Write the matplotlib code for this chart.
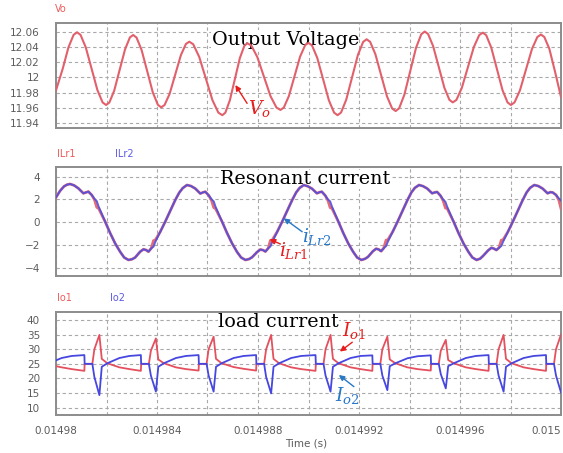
import numpy as np
import matplotlib
matplotlib.use("Agg")
import matplotlib.pyplot as plt

plt.rcParams["mathtext.fontset"] = "dejavuserif"

# ---------------------------------------------------------------- data
T0_US = 14980.0          # time origin of the window, microseconds

# Output voltage (time offsets in us, volts)
vo_t_us = [0.000, 0.265, 0.493, 0.697, 0.833,
           0.971, 1.178, 1.409, 1.639, 1.846, 1.984,
           2.113, 2.306, 2.520, 2.734, 2.927, 3.056,
           3.189, 3.389, 3.612, 3.834, 4.034, 4.167,
           4.300, 4.500, 4.723, 4.945, 5.145, 5.278,
           5.435, 5.671, 5.933, 6.194, 6.430, 6.587,
           6.706, 6.885, 7.083, 7.281, 7.460, 7.579,
           7.736, 7.972, 8.234, 8.496, 8.732, 8.889,
           9.022, 9.222, 9.445, 9.667, 9.867, 10.000,
           10.138, 10.345, 10.576, 10.806, 11.013, 11.151,
           11.289, 11.496, 11.727, 11.957, 12.164, 12.302,
           12.440, 12.647, 12.877, 13.107, 13.314, 13.452,
           13.590, 13.797, 14.028, 14.258, 14.465, 14.603,
           14.736, 14.936, 15.159, 15.381, 15.581, 15.714,
           15.857, 16.071, 16.310, 16.548, 16.762, 16.905,
           17.038, 17.238, 17.461, 17.683, 17.883, 18.016,
           18.159, 18.373, 18.611, 18.849, 19.063, 19.206,
           19.339, 19.539, 19.762, 20.000]
vo = [11.983, 12.0115, 12.0400, 12.0566, 12.0600,
      12.0566, 12.0401, 12.0118, 11.9834, 11.9669, 11.9635,
      11.9668, 11.9826, 12.0100, 12.0373, 12.0532, 12.0564,
      12.0530, 12.0366, 12.0084, 11.9802, 11.9638, 11.9604,
      11.9635, 11.9783, 12.0040, 12.0296, 12.0445, 12.0475,
      12.0441, 12.0274, 11.9988, 11.9701, 11.9534, 11.9500,
      11.9533, 11.9697, 11.9977, 12.0257, 12.0421, 12.0454,
      12.0423, 12.0272, 12.0012, 11.9752, 11.9601, 11.9570,
      11.9601, 11.9753, 12.0015, 12.0277, 12.0429, 12.0460,
      12.0426, 12.0262, 11.9980, 11.9698, 11.9534, 11.9500,
      11.9535, 11.9707, 12.0004, 12.0300, 12.0472, 12.0507,
      12.0474, 12.0311, 12.0031, 11.9751, 11.9588, 11.9555,
      11.9592, 11.9772, 12.0083, 12.0393, 12.0573, 12.0610,
      12.0577, 12.0416, 12.0140, 11.9864, 11.9703, 11.9670,
      11.9702, 11.9861, 12.0133, 12.0404, 12.0563, 12.0595,
      12.0561, 12.0397, 12.0115, 11.9833, 11.9669, 11.9635,
      11.9670, 11.9828, 12.0103, 12.0377, 12.0537, 12.0570,
      12.0538, 12.0380, 12.0080, 11.9740]

# Resonant currents (A)
ilr_t_us = [0.000, 0.159, 0.317, 0.436,
            0.556, 0.715, 0.885, 1.084, 1.191, 1.282, 1.417, 1.528, 1.616, 1.687,
            1.945, 2.143, 2.342, 2.540, 2.699, 2.870, 3.016, 3.135, 3.334, 3.465,
            3.572, 3.663, 3.770, 3.862, 3.929, 4.127, 4.326, 4.524, 4.723, 4.881, 5.020,
            5.187, 5.346, 5.516, 5.715, 5.822, 5.913, 6.048, 6.159, 6.247, 6.318,
            6.576, 6.774, 6.973, 7.171, 7.330, 7.501, 7.647, 7.766, 7.965, 8.096,
            8.203, 8.294, 8.401, 8.493, 8.560, 8.758, 8.957, 9.155, 9.354, 9.512, 9.651,
            9.813, 9.970, 10.137, 10.333, 10.439, 10.528, 10.662, 10.771, 10.858, 10.928,
            11.182, 11.377, 11.573, 11.768, 11.925, 12.093, 12.237, 12.355, 12.551, 12.680,
            12.785, 12.875, 12.980, 13.071, 13.137, 13.332, 13.528, 13.723, 13.920, 14.075, 14.212,
            14.377, 14.534, 14.701, 14.897, 15.003, 15.092, 15.226, 15.335, 15.422, 15.492,
            15.746, 15.941, 16.137, 16.332, 16.489, 16.657, 16.801, 16.919, 17.115, 17.244,
            17.349, 17.439, 17.544, 17.635, 17.701, 17.896, 18.092, 18.287, 18.484, 18.639, 18.776,
            18.941, 19.100, 19.270, 19.469, 19.576, 19.667, 19.802, 19.913, 20.000]
ilr2 = [2.18, 2.75, 3.15, 3.30,
        3.36, 3.24, 2.98, 2.54, 2.62, 2.69, 2.39, 2.05, 1.85, 1.38,
        0.05, -0.95, -1.86, -2.60, -3.10, -3.32, -3.25, -3.10, -2.59, -2.38,
        -2.45, -2.59, -2.30, -2.15, -1.75, -0.85, 0.05, 1.00, 1.95, 2.60, 3.00,
        3.27, 3.18, 2.96, 2.52, 2.62, 2.68, 2.36, 2.02, 1.83, 1.36,
        0.05, -0.95, -1.86, -2.62, -3.10, -3.32, -3.24, -3.08, -2.62, -2.40,
        -2.46, -2.58, -2.30, -2.13, -1.76, -0.85, 0.05, 1.00, 1.95, 2.62, 3.02,
        3.27, 3.16, 2.95, 2.54, 2.64, 2.68, 2.35, 2.00, 1.83, 1.38,
        0.05, -0.95, -1.86, -2.60, -3.10, -3.32, -3.22, -3.05, -2.55, -2.33,
        -2.40, -2.55, -2.28, -2.11, -1.74, -0.85, 0.05, 1.00, 1.95, 2.62, 3.02,
        3.27, 3.17, 2.96, 2.54, 2.62, 2.66, 2.34, 1.98, 1.80, 1.36,
        0.05, -0.95, -1.86, -2.60, -3.10, -3.32, -3.20, -2.95, -2.48, -2.25,
        -2.33, -2.45, -2.25, -2.10, -1.74, -0.85, 0.05, 1.00, 1.95, 2.62, 3.02,
        3.27, 3.18, 2.96, 2.54, 2.64, 2.62, 2.40, 2.10, 1.90]
ilr1 = [2.18, 2.75, 3.15, 3.30,
        3.36, 3.24, 2.98, 2.54, 2.62, 2.69, 2.39, 1.95, 1.30, 1.22,
        0.05, -0.95, -1.86, -2.60, -3.10, -3.32, -3.25, -3.10, -2.59, -2.38,
        -2.45, -2.59, -2.30, -1.62, -1.58, -0.85, 0.05, 1.00, 1.95, 2.60, 3.00,
        3.27, 3.18, 2.96, 2.52, 2.62, 2.68, 2.36, 1.92, 1.28, 1.20,
        0.05, -0.95, -1.86, -2.62, -3.10, -3.32, -3.24, -3.08, -2.62, -2.40,
        -2.46, -2.58, -2.30, -1.60, -1.58, -0.85, 0.05, 1.00, 1.95, 2.62, 3.02,
        3.27, 3.16, 2.95, 2.54, 2.64, 2.68, 2.35, 1.90, 1.28, 1.22,
        0.05, -0.95, -1.86, -2.60, -3.10, -3.32, -3.22, -3.05, -2.55, -2.33,
        -2.40, -2.55, -2.28, -1.58, -1.56, -0.85, 0.05, 1.00, 1.95, 2.62, 3.02,
        3.27, 3.17, 2.96, 2.54, 2.62, 2.66, 2.34, 1.88, 1.25, 1.20,
        0.05, -0.95, -1.86, -2.60, -3.10, -3.32, -3.20, -2.95, -2.48, -2.25,
        -2.33, -2.45, -2.25, -1.58, -1.56, -0.85, 0.05, 1.00, 1.95, 2.62, 3.02,
        3.27, 3.18, 2.96, 2.54, 2.64, 2.62, 2.40, 1.95, 1.20]

# Load currents (A)
io_t_us = [0.000, 0.226, 0.622,
           1.123, 1.135, 1.440, 1.520, 1.718, 1.813, 2.035, 2.512, 2.908,
           3.361, 3.373, 3.678, 3.758, 3.956, 4.051, 4.273, 4.750, 5.146,
           5.647, 5.659, 5.964, 6.044, 6.242, 6.337, 6.559, 7.036, 7.432,
           7.925, 7.937, 8.242, 8.322, 8.520, 8.615, 8.837, 9.314, 9.710,
           10.278, 10.290, 10.595, 10.675, 10.873, 10.968, 11.190, 11.667, 12.063,
           12.528, 12.540, 12.845, 12.925, 13.123, 13.218, 13.440, 13.917, 14.313,
           14.842, 14.854, 15.159, 15.239, 15.437, 15.532, 15.754, 16.231, 16.627,
           17.131, 17.143, 17.448, 17.528, 17.726, 17.821, 18.043, 18.520, 18.916,
           19.405, 19.417, 19.722, 19.802, 20.000]
io1 = [24.2, 23.8, 23.2,
       22.6, 25.0, 25.0, 30.0, 34.9, 26.7, 25.2, 23.8, 23.2,
       22.6, 25.0, 25.0, 29.5, 33.7, 26.5, 25.2, 23.8, 23.2,
       22.7, 25.0, 25.0, 30.0, 34.3, 26.7, 25.2, 23.9, 23.3,
       22.7, 25.0, 25.0, 30.0, 34.9, 26.7, 25.2, 23.8, 23.2,
       22.6, 25.0, 25.0, 30.0, 34.9, 26.7, 25.2, 23.8, 23.2,
       22.6, 25.0, 25.0, 30.0, 34.3, 26.5, 25.2, 23.8, 23.2,
       22.7, 25.0, 25.0, 29.5, 33.2, 26.3, 25.2, 23.8, 23.2,
       22.6, 25.0, 25.0, 30.0, 34.9, 26.7, 25.2, 23.8, 23.2,
       22.6, 25.0, 25.0, 30.0, 35.0]
io2 = [26.2, 27.0, 27.7,
       28.0, 25.0, 25.0, 20.5, 14.3, 24.0, 25.2, 27.0, 27.7,
       28.0, 25.0, 25.0, 21.0, 15.5, 24.0, 25.2, 27.0, 27.7,
       28.0, 25.0, 25.0, 21.0, 15.5, 24.0, 25.2, 27.0, 27.7,
       28.0, 25.0, 25.0, 20.5, 14.9, 24.0, 25.2, 27.0, 27.7,
       28.0, 25.0, 25.0, 21.0, 15.5, 24.0, 25.2, 27.0, 27.7,
       27.9, 25.0, 25.0, 21.0, 16.0, 24.2, 25.2, 26.9, 27.6,
       27.9, 25.0, 25.0, 21.5, 16.6, 24.2, 25.2, 27.0, 27.7,
       28.0, 25.0, 25.0, 21.0, 15.5, 24.0, 25.2, 27.0, 27.7,
       28.0, 25.0, 25.0, 21.0, 15.2]

x_grid = [0.014980, 0.014982, 0.014984, 0.014986, 0.014988, 0.014990,
          0.014992, 0.014994, 0.014996, 0.014998, 0.015000]
x_labels = ["0.01498", "", "0.014984", "", "0.014988", "",
            "0.014992", "", "0.014996", "", "0.015"]
vo_ticks = [11.94, 11.96, 11.98, 12.00, 12.02, 12.04, 12.06]
vo_tick_labels = ["11.94", "11.96", "11.98", "12", "12.02", "12.04", "12.06"]
ilr_ticks = [-4, -2, 0, 2, 4]
io_ticks = [10, 15, 20, 25, 30, 35, 40]


def to_seconds(t_us):
    return (T0_US + np.asarray(t_us)) * 1e-6


# ---------------------------------------------------------------- figure
W, H = 563, 453
fig = plt.figure(figsize=(W / 100, H / 100), dpi=100)
fig.patch.set_facecolor("white")


def add_panel(left, top, right, bottom):
    return fig.add_axes([left / W, 1 - bottom / H, (right - left) / W, (bottom - top) / H])


ax1 = add_panel(56, 22.7, 561, 128)
ax2 = add_panel(56, 166.7, 561, 276)
ax3 = add_panel(56, 311.7, 561, 415)

RED_LINE = "#e2606c"
BLUE_LINE = "#4f4fdc"
LABEL_GRAY = "#5c5c5c"

for ax in (ax1, ax2, ax3):
    ax.set_xlim(0.01498, 0.015)
    ax.set_xticks(x_grid)
    ax.set_xticklabels([])
    ax.grid(True, color="#a9a9a9", linestyle=(0, (3, 2.5)), linewidth=0.8, zorder=0)
    ax.set_axisbelow(True)
    ax.tick_params(length=0, labelsize=7.5, labelcolor=LABEL_GRAY, pad=11.5)
    for sp in ax.spines.values():
        sp.set_color("#8c8c8c")
        sp.set_linewidth(1.4)

# Output voltage
ax1.plot(to_seconds(vo_t_us), vo, color=RED_LINE, lw=1.5, zorder=3)
ax1.set_ylim(11.933, 12.0727)
ax1.set_yticks(vo_ticks)
ax1.set_yticklabels(vo_tick_labels)

# Resonant currents
ax2.plot(to_seconds(ilr_t_us), ilr1, color="#e46a78", lw=2.0, zorder=3)
ax2.plot(to_seconds(ilr_t_us), ilr2, color=BLUE_LINE, lw=1.4, alpha=0.9, zorder=4)
ax2.set_ylim(-4.73, 4.88)
ax2.set_yticks(ilr_ticks)

# Load currents
ax3.plot(to_seconds(io_t_us), io1, color="#e4505e", lw=1.3, zorder=3)
ax3.plot(to_seconds(io_t_us), io2, color="#4646e0", lw=1.3, zorder=4)
ax3.set_ylim(7.5, 42.84)
ax3.set_yticks(io_ticks)
ax3.set_xticklabels(x_labels)
ax3.tick_params(axis="x", pad=8)
ax3.get_xticklabels()[-1].set_horizontalalignment("right")
fig.text(306 / W, 1 - 443 / H, "Time (s)", ha="center", va="center",
         fontsize=7.5, color=LABEL_GRAY)

# Trace names above each panel
name_style = dict(fontsize=7, va="center", ha="left")
fig.text(55 / W, 1 - 9 / H, "Vo", color="#ee5a5a", **name_style)
fig.text(57 / W, 1 - 153.5 / H, "ILr1", color="#ee5a5a", **name_style)
fig.text(115 / W, 1 - 153.5 / H, "ILr2", color="#5a5ae6", **name_style)
fig.text(57 / W, 1 - 298 / H, "Io1", color="#ee5a5a", **name_style)
fig.text(110 / W, 1 - 298 / H, "Io2", color="#5a5ae6", **name_style)

# Panel captions: white box hides the grid, traces stay on top
title_style = dict(fontsize=13.8, family="DejaVu Serif", color="black", ha="left",
                   va="baseline", zorder=2,
                   bbox=dict(facecolor="white", edgecolor="none", pad=0.4))
ax1.text(0.308, 0.790, "Output Voltage", transform=ax1.transAxes, **title_style)
ax2.text(0.325, 0.839, "Resonant current", transform=ax2.transAxes, **title_style)
ax3.text(0.321, 0.855, "load current", transform=ax3.transAxes, **title_style)

# Trace callouts
ARROW_RED = "#e81c1c"
ARROW_BLUE = "#2878c8"


def to_seconds_pt(p):
    return ((T0_US + p[0]) * 1e-6, p[1])


def callout(ax, text, head, tail, text_pos, color):
    ax.annotate("", xy=to_seconds_pt(head), xytext=to_seconds_pt(tail),
                arrowprops=dict(arrowstyle="-|>", color=color, lw=1.0,
                                mutation_scale=8, shrinkA=0, shrinkB=0),
                zorder=11)
    ax.text(*to_seconds_pt(text_pos), text, color=color, fontsize=13.5,
            ha="left", va="center", zorder=11)


callout(ax1, r"$V_o$", (7.103, 11.990), (7.568, 11.9657), (7.62, 11.9595), ARROW_RED)
callout(ax2, r"$i_{\mathit{Lr2}}$", (9.020, 0.34), (9.750, -0.84), (9.74, -1.25), ARROW_BLUE)
callout(ax2, r"$i_{\mathit{Lr1}}$", (8.464, -1.50), (8.889, -1.92), (8.85, -2.50), ARROW_RED)
callout(ax3, r"$I_{\mathit{o1}}$", (11.242, 29.2), (11.734, 32.4), (11.33, 36.4), ARROW_RED)
callout(ax3, r"$I_{\mathit{o2}}$", (11.203, 21.2), (11.798, 17.2), (11.03, 14.3), ARROW_BLUE)

fig.savefig("out.png", dpi=100, facecolor="white")
